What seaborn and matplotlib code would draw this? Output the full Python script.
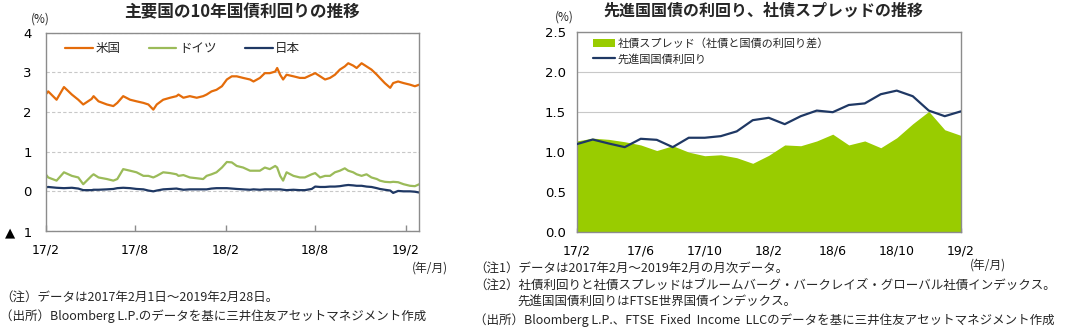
import numpy as np
import pandas as pd
import matplotlib
matplotlib.use("Agg")
import matplotlib.pyplot as plt
import seaborn as sns
from matplotlib.patches import Patch
from matplotlib.lines import Line2D

sns.set_theme(style="white")
plt.rcParams['font.family'] = ['DejaVu Sans', 'Noto Sans CJK JP']
JP = ['Noto Sans CJK JP', 'DejaVu Sans']

# ---------------- Left chart data (10y government bond yields, %) ----------------
dates = [
    "2017-02-01", "2017-02-06", "2017-02-23", "2017-03-10", "2017-03-26", "2017-04-08",
    "2017-04-18", "2017-05-05", "2017-05-09", "2017-05-19", "2017-06-05", "2017-06-18",
    "2017-06-26", "2017-07-08", "2017-07-22", "2017-08-04", "2017-08-18", "2017-08-28",
    "2017-09-07", "2017-09-14", "2017-09-27", "2017-10-11", "2017-10-24", "2017-10-28",
    "2017-11-07", "2017-11-20", "2017-12-04", "2017-12-17", "2017-12-24", "2018-01-03",
    "2018-01-13", "2018-01-24", "2018-02-03", "2018-02-13", "2018-02-23", "2018-03-08",
    "2018-03-22", "2018-03-29", "2018-04-11", "2018-04-21", "2018-05-01", "2018-05-12",
    "2018-05-16", "2018-05-22", "2018-05-28", "2018-06-04", "2018-06-18", "2018-07-01",
    "2018-07-11", "2018-07-25", "2018-08-01", "2018-08-11", "2018-08-21", "2018-08-31",
    "2018-09-10", "2018-09-20", "2018-09-30", "2018-10-07", "2018-10-17", "2018-10-24",
    "2018-11-03", "2018-11-13", "2018-11-23", "2018-12-04", "2018-12-10", "2018-12-20",
    "2018-12-31", "2019-01-06", "2019-01-16", "2019-01-27", "2019-02-09", "2019-02-19",
    "2019-02-28",
]
us = [
    2.44, 2.52, 2.31, 2.63, 2.44, 2.31, 2.19, 2.33, 2.40, 2.27, 2.19, 2.15,
    2.23, 2.40, 2.31, 2.27, 2.23, 2.19, 2.06, 2.19, 2.31, 2.36, 2.40, 2.44,
    2.36, 2.40, 2.36, 2.40, 2.44, 2.52, 2.56, 2.65, 2.82, 2.90, 2.90, 2.86,
    2.82, 2.77, 2.86, 2.98, 2.98, 3.02, 3.11, 2.94, 2.82, 2.94, 2.90, 2.86,
    2.86, 2.94, 2.98, 2.90, 2.82, 2.86, 2.94, 3.07, 3.15, 3.23, 3.17, 3.11,
    3.23, 3.15, 3.07, 2.94, 2.86, 2.73, 2.61, 2.73, 2.77, 2.73, 2.69, 2.65,
    2.69,
]
de = [
    0.43, 0.35, 0.27, 0.48, 0.39, 0.35, 0.18, 0.39, 0.43, 0.35, 0.31, 0.27,
    0.31, 0.56, 0.52, 0.48, 0.39, 0.39, 0.35, 0.39, 0.48, 0.46, 0.43, 0.39,
    0.41, 0.35, 0.33, 0.31, 0.39, 0.43, 0.48, 0.60, 0.74, 0.73, 0.64, 0.60,
    0.52, 0.52, 0.52, 0.60, 0.56, 0.64, 0.60, 0.39, 0.27, 0.48, 0.39, 0.35,
    0.35, 0.43, 0.46, 0.35, 0.39, 0.39, 0.48, 0.52, 0.58, 0.52, 0.48, 0.43,
    0.39, 0.43, 0.35, 0.31, 0.27, 0.24, 0.23, 0.24, 0.23, 0.18, 0.14, 0.13,
    0.18,
]
jp = [
    0.10, 0.11, 0.09, 0.08, 0.09, 0.07, 0.03, 0.03, 0.04, 0.04, 0.05, 0.06,
    0.08, 0.09, 0.08, 0.06, 0.05, 0.02, 0.00, 0.02, 0.05, 0.06, 0.07, 0.06,
    0.04, 0.05, 0.05, 0.05, 0.05, 0.07, 0.08, 0.08, 0.08, 0.07, 0.06, 0.05,
    0.04, 0.05, 0.04, 0.05, 0.05, 0.05, 0.05, 0.05, 0.04, 0.03, 0.04, 0.03,
    0.03, 0.06, 0.12, 0.11, 0.11, 0.12, 0.12, 0.13, 0.15, 0.16, 0.15, 0.14,
    0.14, 0.12, 0.11, 0.08, 0.06, 0.04, 0.02, -0.04, 0.01, 0.00, 0.00, -0.01,
    -0.03,
]
left_ticks = ["2017-02-01", "2017-08-01", "2018-02-01", "2018-08-01", "2019-02-01"]
left_tick_labels = ["17/2", "17/8", "18/2", "18/8", "19/2"]
left_y_ticks = [-1, 0, 1, 2, 3, 4]
left_y_labels = ["▲  1", "0", "1", "2", "3", "4"]

# ---------------- Right chart data (monthly, %) ----------------
months = ["17/2", "17/3", "17/4", "17/5", "17/6", "17/7", "17/8", "17/9", "17/10",
          "17/11", "17/12", "18/1", "18/2", "18/3", "18/4", "18/5", "18/6", "18/7",
          "18/8", "18/9", "18/10", "18/11", "18/12", "19/1", "19/2"]
spread = [1.14, 1.175, 1.16, 1.13, 1.09, 1.02, 1.08, 1.00, 0.955, 0.967, 0.93, 0.86,
          0.96, 1.09, 1.08, 1.14, 1.225, 1.09, 1.14, 1.055, 1.18, 1.355, 1.51, 1.28, 1.21]
govt = [1.10, 1.158, 1.108, 1.0625, 1.167, 1.154, 1.0625, 1.18, 1.18, 1.20, 1.26, 1.40,
        1.43, 1.35, 1.45, 1.52, 1.50, 1.59, 1.61, 1.725, 1.77, 1.70, 1.52, 1.45, 1.51]

C_US, C_DE, C_JP = "#E46C0A", "#9BBB59", "#1F3864"
C_FILL, C_LINE = "#99CC00", "#1F3864"
GRID = "#C8C8C8"
SPINE = "#8C8C8C"

fig = plt.figure(figsize=(10.73, 3.29), dpi=100)
ax1 = fig.add_axes([0.0426, 0.2979, 0.3482, 0.6027])
ax2 = fig.add_axes([0.5375, 0.2948, 0.3579, 0.607])

# ---- left chart ----
df1 = pd.DataFrame({"date": pd.to_datetime(dates), "米国": us, "ドイツ": de, "日本": jp})
long = df1.melt("date", var_name="国", value_name="利回り")
pal = {"米国": C_US, "ドイツ": C_DE, "日本": C_JP}
sns.lineplot(data=long, x="date", y="利回り", hue="国", palette=pal, ax=ax1,
             linewidth=1.6, legend=False)
ax1.set_xlim(pd.Timestamp("2017-02-01"), pd.Timestamp("2019-02-28"))
ax1.set_ylim(-1, 4)
ax1.set_yticks(left_y_ticks)
ax1.set_yticklabels(left_y_labels)
ax1.set_xticks(pd.to_datetime(left_ticks))
ax1.set_xticklabels(left_tick_labels)
ax1.set_xlabel("")
ax1.set_ylabel("")
ax1.set_axisbelow(True)
ax1.yaxis.grid(True, linestyle=(0, (3, 2)), color=GRID, linewidth=0.8)
ax1.xaxis.grid(False)
ax1.tick_params(axis="x", direction="in", length=4, width=1, color=SPINE, pad=9,
                labelsize=9, labelcolor="#000000", bottom=True)
ax1.tick_params(axis="y", length=0, pad=10, labelsize=9.5, labelcolor="#000000")
for s in ax1.spines.values():
    s.set_color(SPINE)
    s.set_linewidth(1.0)
h1 = [Line2D([], [], color=pal[k], lw=1.6) for k in ["米国", "ドイツ", "日本"]]
ax1.legend(h1, ["米国", "ドイツ", "日本"], loc="center left", bbox_to_anchor=(0.052, 0.918),
           ncol=3, frameon=False, prop={"family": JP, "size": 9}, handlelength=2.2,
           handletextpad=0.2, columnspacing=2.3, borderpad=0, borderaxespad=0)

# ---- right chart ----
x = np.arange(len(months))
df2 = pd.DataFrame({"x": x, "spread": spread, "govt": govt})
ax2.fill_between(df2["x"], 0, df2["spread"], color=C_FILL, linewidth=0, zorder=1)
sns.lineplot(data=df2, x="x", y="govt", ax=ax2, color=C_LINE, linewidth=1.6, zorder=3)
ax2.set_xlim(0, len(months) - 1)
ax2.set_ylim(0, 2.5)
ax2.set_yticks([0, 0.5, 1.0, 1.5, 2.0, 2.5])
ax2.set_yticklabels(["0.0", "0.5", "1.0", "1.5", "2.0", "2.5"])
ax2.set_xticks(x[::4])
ax2.set_xticklabels(months[::4])
ax2.set_xlabel("")
ax2.set_ylabel("")
ax2.set_axisbelow(True)
ax2.yaxis.grid(True, linestyle="-", color=GRID, linewidth=0.8)
ax2.xaxis.grid(False)
ax2.tick_params(axis="x", direction="in", length=3, width=1, color=SPINE, pad=9,
                labelsize=9, labelcolor="#000000", bottom=True)
ax2.tick_params(axis="y", length=0, pad=8, labelsize=9.5, labelcolor="#000000")
for s in ax2.spines.values():
    s.set_color(SPINE)
    s.set_linewidth(1.0)
h2 = [Patch(facecolor=C_FILL, edgecolor="none"), Line2D([], [], color=C_LINE, lw=1.6)]
ax2.legend(h2, ["社債スプレッド（社債と国債の利回り差）", "先進国国債利回り"], loc="center left",
           bbox_to_anchor=(0.042, 0.906), frameon=False, prop={"family": JP, "size": 8},
           handlelength=2.0, handletextpad=0.2, labelspacing=0.45, borderpad=0,
           borderaxespad=0)

# ---- texts ----
fig.text(0.2255, 0.962, "主要国の10年国債利回りの推移", ha="center", va="center",
         family=JP, fontsize=12, fontweight="bold")
fig.text(0.711, 0.968, "先進国国債の利回り、社債スプレッドの推移", ha="center", va="center",
         family=JP, fontsize=11.5, fontweight="bold")
fig.text(0.0373, 0.942, "(%)", ha="center", va="center", family=JP, fontsize=8.5)
fig.text(0.5256, 0.948, "(%)", ha="center", va="center", family=JP, fontsize=8.5)
fig.text(0.384, 0.185, "(年/月)", ha="left", va="center", family=JP, fontsize=8.5)
fig.text(0.904, 0.195, "(年/月)", ha="left", va="center", family=JP, fontsize=8.5)

fig.text(0.0, 0.097, "（注）データは2017年2月1日～2019年2月28日。", ha="left", va="center",
         family=JP, fontsize=9)
fig.text(0.0, 0.040, "（出所）Bloomberg L.P.のデータを基に三井住友アセットマネジメント作成",
         ha="left", va="center", family=JP, fontsize=9)
fig.text(0.4417, 0.185, "（注1）データは2017年2月～2019年2月の月次データ。", ha="left",
         va="center", family=JP, fontsize=9)
fig.text(0.4417, 0.134, "（注2）社債利回りと社債スプレッドはブルームバーグ・バークレイズ・グローバル社債インデックス。",
         ha="left", va="center", family=JP, fontsize=9)
fig.text(0.4818, 0.082, "先進国国債利回りはFTSE世界国債インデックス。", ha="left", va="center",
         family=JP, fontsize=9)
fig.text(0.4417, 0.027, "（出所）Bloomberg L.P.、FTSE  Fixed  Income  LLCのデータを基に三井住友アセットマネジメント作成",
         ha="left", va="center", family=JP, fontsize=9)

fig.savefig("out.png", dpi=100)
